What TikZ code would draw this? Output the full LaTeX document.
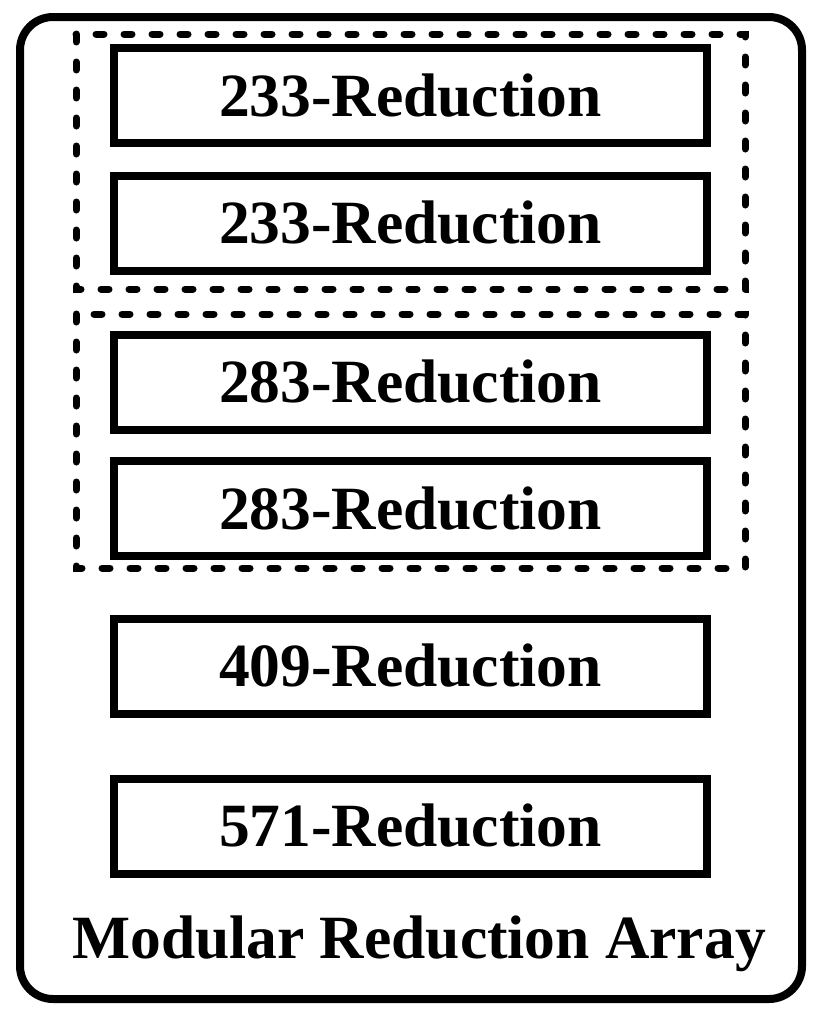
\documentclass[tikz,border=0pt]{standalone}
\usepackage{fontspec}
\setmainfont{Liberation Serif}
\begin{document}
\begin{tikzpicture}[x=1pt,y=-1pt,
  redbox/.style={draw=black, line width=8pt, rectangle, minimum width=593pt, minimum height=95pt, inner sep=0pt,
    font=\fontsize{61.5}{68}\selectfont\bfseries, text height=41pt, text depth=0pt},
  groupbox/.style={draw=black, line width=7pt, dash pattern=on 8pt off 20pt, line cap=round},
  outerbox/.style={draw=black, line width=8pt, rounded corners=33pt}]
\useasboundingbox (0,0) rectangle (822,1020);
\draw[outerbox] (20,17) rectangle (802,999);
\draw[groupbox] (76,34) rectangle (745,289);
\draw[groupbox] (76,314) rectangle (745,568);
\node[redbox] (r1) at (410.5,95.5) {233-Reduction};
\node[redbox] (r2) at (410.5,223) {233-Reduction};
\node[redbox] (r3) at (410.5,382) {283-Reduction};
\node[redbox] (r4) at (410.5,508.5) {283-Reduction};
\node[redbox] (r5) at (410.5,666) {409-Reduction};
\node[redbox] (r6) at (410.5,826) {571-Reduction};
\node[anchor=base, font=\fontsize{61.5}{68}\selectfont\bfseries, inner sep=0pt] (title) at (419,958) {Modular Reduction Array};
\end{tikzpicture}
\end{document}
